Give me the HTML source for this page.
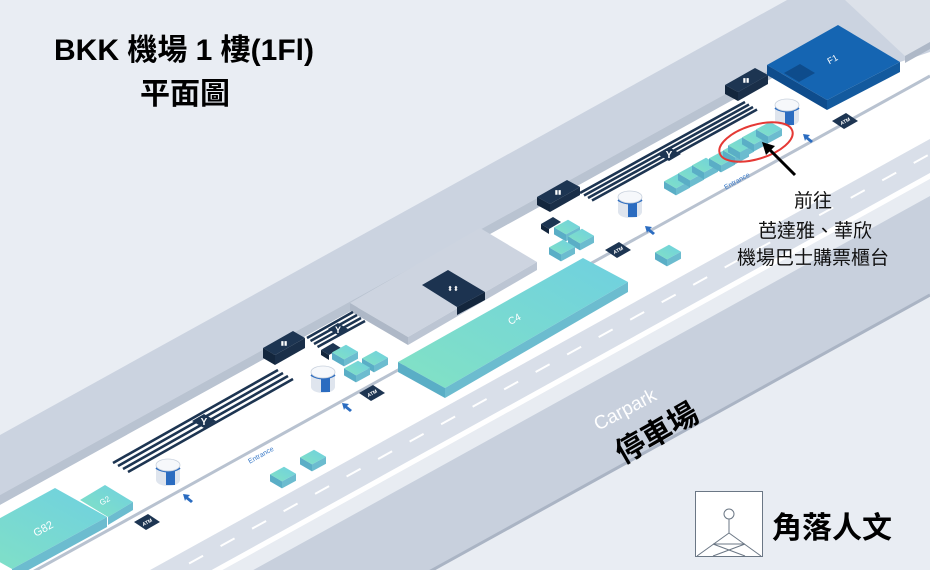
<!DOCTYPE html>
<html><head><meta charset="utf-8"><style>
html,body{margin:0;padding:0;background:#e9edf3;width:930px;height:570px;overflow:hidden;}
svg{display:block;}
text{font-family:"Liberation Sans","Noto Sans CJK TC",sans-serif;}
</style></head><body>
<svg width="930" height="570" viewBox="0 0 930 570" xmlns="http://www.w3.org/2000/svg">
<defs>
<linearGradient id="tg" x1="0" y1="1" x2="1" y2="0"><stop offset="0" stop-color="#82e2c4"/><stop offset="1" stop-color="#6fd0e0"/></linearGradient>
<g id="sb">
 <polygon points="-13,0.4 1,-7.3 13,-0.3 -1,7.4" fill="url(#tg)"/>
 <polygon points="-13,0.4 -1,7.4 -1,14.4 -13,7.4" fill="#5aaec6"/>
 <polygon points="-1,7.4 13,-0.3 13,6.7 -1,14.4" fill="#6cbccf"/>
</g>
<g id="cyl">
 <rect x="-12" y="0" width="24" height="15" fill="#dfe5ee"/>
 <ellipse cx="0" cy="15" rx="12" ry="6" fill="#dfe5ee"/>
 <rect x="-2" y="3" width="9" height="17" fill="#2b6cc0"/>
 <path d="M-12,3 Q0,10 12,3" stroke="#2b6cc0" stroke-width="2" fill="none"/>
 <ellipse cx="0" cy="0" rx="12" ry="6" fill="#f6f8fb" stroke="#c8d1dd" stroke-width="0.8"/>
</g>
<g id="atm">
 <polygon points="-13,0 1,-8 13,0 -1,8" fill="#1d3552"/>
 <text x="0" y="2" font-size="5" fill="#fff" font-weight="bold" text-anchor="middle" transform="rotate(-29)">ATM</text>
</g>
<g id="arr">
 <polygon points="-5,-4 2,-3 0,-1 5,3 3,5 -2,1 -3,3" fill="#2b6cc0"/>
</g>
<g id="rr">
 <polygon points="-10,0 2,-7 10,-2 -2,5" fill="#1d3552"/>
 <polygon points="-10,0 -2,5 -2,10 -10,5" fill="#13263d"/>
</g>
</defs>

<rect width="930" height="570" fill="#e9edf3"/>
<!-- wall band -->
<polygon points="0,435 930,-79 930,-19 0,495" fill="#cbd3e0"/>
<polygon points="0,495 930,-19 930,-9 0,505" fill="#b9c3d1"/>
<!-- floor -->
<polygon points="0,505 930,-9 930,139 0,653" fill="#ffffff"/>
<!-- top-right gray structure -->
<polygon points="787,0 930,0 930,52 900,62 838,25 767,65 740,78" fill="#cbd3e0"/>
<polygon points="845,0 930,0 930,42 905,56" fill="#dce1e9"/>
<polygon points="905,56 930,42 930,49 905,63" fill="#aeb8c7"/>
<line x1="0" y1="590" x2="930" y2="76" stroke="#b8c2d0" stroke-width="3"/>
<!-- road -->
<polygon points="0,653 930,139 930,173 0,687" fill="#d9dfe9"/>
<line x1="0" y1="668" x2="930" y2="154" stroke="#fff" stroke-width="2" stroke-dasharray="16 20"/>
<polygon points="0,687 930,173 930,179 0,693" fill="#ffffff"/>
<polygon points="0,693 930,179 930,196 0,710" fill="#e8ecf2"/>
<polygon points="0,710 930,196 930,295 0,809" fill="#c8d0dd"/>
<line x1="0" y1="809" x2="930" y2="295" stroke="#aab4c4" stroke-width="3"/>

<!-- gray building -->
<polygon points="350,303 480,228 537,262 408,337" fill="#cdd4e0"/>
<polygon points="350,303 408,337 408,345 350,311" fill="#aeb8c7"/>
<polygon points="408,337 537,262 537,270 408,345" fill="#bcc5d3"/>
<polygon points="422,285 448,270 485,292 457,307" fill="#1c3350"/>
<polygon points="457,307 485,292 485,300 457,315" fill="#13263d"/>
<text x="453" y="291" font-size="7" fill="#fff" text-anchor="middle">⬍⬍</text>

<!-- escalators -->
<g stroke="#1d3552" stroke-width="2.6">
 <line x1="113" y1="463" x2="278" y2="370"/><line x1="118" y1="466" x2="283" y2="373"/>
 <line x1="123" y1="469" x2="288" y2="376"/><line x1="128" y1="472" x2="293" y2="379"/>
 <line x1="580" y1="193" x2="745" y2="102"/><line x1="584" y1="195.5" x2="749" y2="104.5"/>
 <line x1="588" y1="198" x2="753" y2="107"/><line x1="592" y1="200.5" x2="757" y2="109.5"/>
 <line x1="307" y1="338" x2="353" y2="312"/><line x1="310.5" y1="341" x2="357" y2="315"/>
 <line x1="314" y1="344" x2="361" y2="318"/><line x1="317.5" y1="347" x2="365" y2="321"/>
</g>
<polygon points="192,421 204,414 216,421 204,428" fill="#1d3552"/>
<polygon points="657,154 669,147 681,154 669,161" fill="#1d3552"/>
<polygon points="328,329 338,323 348,329 338,335" fill="#1d3552"/>
<text x="204" y="425" font-size="10" fill="#fff" text-anchor="middle" font-weight="bold">Y</text>
<text x="669" y="158" font-size="10" fill="#fff" text-anchor="middle" font-weight="bold">Y</text>
<text x="338" y="333" font-size="9" fill="#fff" text-anchor="middle" font-weight="bold">Y</text>

<!-- restroom blocks -->
<polygon points="263,348 293,331 305,338 275,355" fill="#1d3552"/>
<polygon points="263,348 275,355 275,365 263,358" fill="#13263d"/>
<polygon points="275,355 305,338 305,348 275,365" fill="#1a2f49"/>
<polygon points="725,85 755,68 768,75 738,92" fill="#1d3552"/>
<polygon points="725,85 738,92 738,101 725,94" fill="#13263d"/>
<polygon points="738,92 768,75 768,84 738,101" fill="#1a2f49"/>
<polygon points="537,197 567,180 580,187 550,204" fill="#1d3552"/>
<polygon points="537,197 550,204 550,212 537,205" fill="#13263d"/>
<polygon points="550,204 580,187 580,195 550,212" fill="#1a2f49"/>
<g fill="#fff" font-size="6" text-anchor="middle"><text x="284" y="345">▮▮</text><text x="746" y="82">▮▮</text><text x="558" y="194">▮▮</text></g>
<use href="#rr" x="331" y="350"/>
<use href="#rr" x="551" y="224"/>

<!-- F1 -->
<polygon points="767,65 838,25 900,62 827,100" fill="#1565b2"/>
<polygon points="767,65 827,100 827,110 767,75" fill="#0e4c8c"/>
<polygon points="827,100 900,62 900,72 827,110" fill="#135a9e"/>
<polygon points="784,73 800,64 815,73 799,82" fill="#0e4c8c"/>
<text x="834" y="62" font-size="9" fill="#fff" text-anchor="middle" transform="rotate(-29 834 62)">F1</text>

<!-- C4 -->
<polygon points="398,362 583,258 628,282 445,388" fill="url(#tg)"/>
<polygon points="398,362 445,388 445,398 398,372" fill="#5aaec6"/>
<polygon points="445,388 628,282 628,292 445,398" fill="#6cbccf"/>
<text x="516" y="322" font-size="10" fill="#fff" text-anchor="middle" transform="rotate(-29 516 322)">C4</text>

<!-- G82, G2 -->
<polygon points="-40,540 55,488 107,517 12,569" fill="url(#tg)"/>
<polygon points="12,569 107,517 107,527 12,579" fill="#6cbccf"/>
<polygon points="80,500 105,485 133,502 108,517" fill="url(#tg)"/>
<polygon points="108,517 133,502 133,510 108,525" fill="#6cbccf"/>
<text x="45" y="532" font-size="11" fill="#fff" text-anchor="middle" transform="rotate(-29 45 532)">G82</text>
<text x="106" y="503" font-size="8" fill="#fff" text-anchor="middle" transform="rotate(-29 106 503)">G2</text>

<!-- small boxes -->
<use href="#sb" x="668" y="252"/>
<use href="#sb" x="283" y="474"/><use href="#sb" x="313" y="457"/>
<use href="#sb" x="345" y="352"/><use href="#sb" x="375" y="358"/><use href="#sb" x="357" y="368"/>
<use href="#sb" x="567" y="227"/><use href="#sb" x="581" y="236"/><use href="#sb" x="562" y="247"/>
<use href="#sb" x="677" y="181"/><use href="#sb" x="691" y="173"/><use href="#sb" x="705" y="165"/>
<use href="#sb" x="722" y="158"/><use href="#sb" x="736" y="150"/>
<use href="#sb" x="741" y="145"/><use href="#sb" x="755" y="137"/><use href="#sb" x="769" y="129"/>

<!-- cylinders -->
<use href="#cyl" x="168" y="465"/><use href="#cyl" x="323" y="372"/>
<use href="#cyl" x="630" y="197"/><use href="#cyl" x="787" y="105"/>

<!-- ATMs & arrows -->
<use href="#atm" x="147" y="522"/><use href="#atm" x="372" y="393"/>
<use href="#atm" x="618" y="250"/><use href="#atm" x="845" y="121"/>
<use href="#arr" x="188" y="498"/><use href="#arr" x="347" y="407"/>
<use href="#arr" x="650" y="230"/><use href="#arr" x="808" y="138"/>

<text x="262" y="457" font-size="7" fill="#3b7bc8" text-anchor="middle" transform="rotate(-29 262 457)">Entrance</text>
<text x="738" y="183" font-size="7" fill="#3b7bc8" text-anchor="middle" transform="rotate(-29 738 183)">Entrance</text>

<!-- annotation -->
<ellipse cx="756" cy="142" rx="38" ry="17" transform="rotate(-17 756 142)" fill="none" stroke="#e53935" stroke-width="2"/>
<line x1="795" y1="175" x2="768" y2="148" stroke="#000" stroke-width="3"/>
<polygon points="762,142 775,146 766,155" fill="#000"/>
<g font-size="19" fill="#111" text-anchor="middle">
<text x="813" y="207">前往</text>
<text x="815" y="237">芭達雅、華欣</text>
<text x="813" y="264">機場巴士購票櫃台</text>
</g>

<!-- carpark -->
<text x="628" y="415" font-size="19" fill="#fff" text-anchor="middle" transform="rotate(-28 628 415)">Carpark</text>
<text x="662" y="442" font-size="30" font-weight="bold" fill="#000" text-anchor="middle" transform="rotate(-30 662 442)">停車場</text>

<!-- title -->
<text x="184" y="60" font-size="30" font-weight="bold" fill="#000" text-anchor="middle">BKK 機場 1 樓(1Fl)</text>
<text x="185" y="104" font-size="30" font-weight="bold" fill="#000" text-anchor="middle">平面圖</text>

<!-- logo -->
<rect x="695.5" y="491.5" width="67" height="65" fill="#fff" stroke="#6b7785" stroke-width="1"/>
<g stroke="#6b7785" stroke-width="1" fill="none">
<circle cx="729" cy="514" r="5"/>
<line x1="729" y1="519" x2="729" y2="533"/>
<line x1="729" y1="533" x2="697" y2="556"/><line x1="729" y1="533" x2="761" y2="556"/>
<line x1="713" y1="544" x2="745" y2="544"/>
<line x1="713" y1="544" x2="745" y2="556"/><line x1="745" y1="544" x2="713" y2="556"/>
</g>
<text x="772" y="538" font-size="30" font-weight="bold" fill="#000">角落人文</text>
</svg>
</body></html>
